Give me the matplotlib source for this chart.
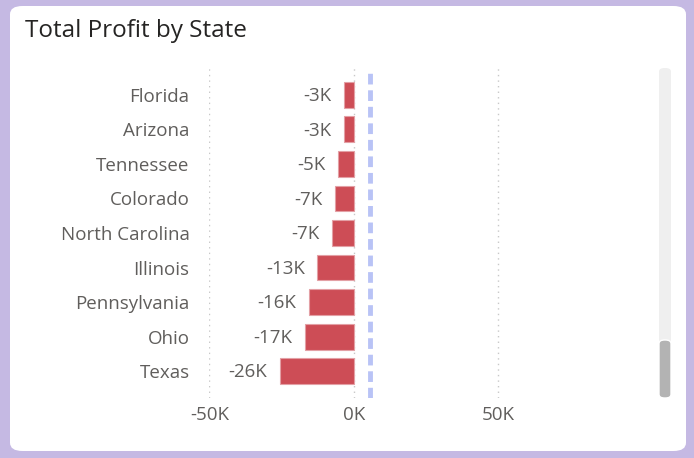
import matplotlib.pyplot as plt
from matplotlib.patches import FancyBboxPatch

states = ["Florida", "Arizona", "Tennessee", "Colorado", "North Carolina",
          "Illinois", "Pennsylvania", "Ohio", "Texas"]
profit = [-3399, -3428, -5342, -6528, -7491, -12608, -15560, -16971, -25729]
ref_line = 5500
xticks = [-50000, 0, 50000]
xtick_labels = ["-50K", "0K", "50K"]

W, H = 694, 458
fig = plt.figure(figsize=(W / 100, H / 100), dpi=100)
fig.patch.set_facecolor("#C5B9E3")

# white card
card = FancyBboxPatch((10 / W, 7 / H), 676 / W, 445 / H,
                      boxstyle="round,pad=0,rounding_size=0.018",
                      transform=fig.transFigure, facecolor="white",
                      edgecolor="none", zorder=-2)
fig.patches.append(card)

fig.text(25 / W, 1 - 31 / H, "Total Profit by State", fontsize=17.5,
         family="Open Sans", color="#252423", va="center", ha="left")

# scrollbar
track = FancyBboxPatch((659 / W, (H - 398) / H), 12 / W, 330 / H,
                       boxstyle="round,pad=0,rounding_size=0.008",
                       transform=fig.transFigure, facecolor="#EFEFEF",
                       edgecolor="none", zorder=-1)
thumb = FancyBboxPatch((659 / W, (H - 398) / H), 12 / W, 58 / H,
                       boxstyle="round,pad=0,rounding_size=0.008",
                       transform=fig.transFigure, facecolor="#B3B3B3",
                       edgecolor="white", linewidth=1, zorder=-1)
fig.patches.append(track)
fig.patches.append(thumb)

# -50K sits at x=209px, 50K at x=498px
left, right = 209, 640
top, bottom = 68, 398
per_px = 100000 / (498 - 209)
xmax = 50000 + (right - 498) * per_px
ax = fig.add_axes([left / W, (H - bottom) / H, (right - left) / W, (bottom - top) / H])
ax.set_facecolor("none")
for s in ax.spines.values():
    s.set_visible(False)

y = list(range(len(states)))
ax.barh(y, profit, height=0.75, color="#CD4D56", edgecolor="#E3A0A5",
        linewidth=0.8, zorder=3)
for yi, v in zip(y, profit):
    ax.annotate("%dK" % round(v / 1000), (v, yi), xytext=(-9, -1),
                textcoords="offset points", ha="right", va="center",
                fontsize=13.5, family="Open Sans", color="#605E5C")

ax.axvline(ref_line, color="#B9C3F6", linewidth=3.5, linestyle=(0, (2.2, 1.2)),
           zorder=4)

ax.set_xlim(-50000 - per_px * 0.5, xmax)
ax.set_ylim(len(states) - 0.22, -0.78)
ax.set_xticks(xticks)
ax.set_xticklabels(xtick_labels)
ax.set_yticks(y)
ax.set_yticklabels(states)
ax.tick_params(axis="both", length=0, labelsize=13.5, labelcolor="#605E5C")
ax.tick_params(axis="y", pad=14)
ax.tick_params(axis="x", pad=6)
for lab in ax.get_xticklabels() + ax.get_yticklabels():
    lab.set_family("Open Sans")
ax.grid(axis="x", color="#C8C8C8", linestyle=(0, (1, 3)), linewidth=1, zorder=0)
ax.set_axisbelow(True)

fig.savefig("out.png", dpi=100)
